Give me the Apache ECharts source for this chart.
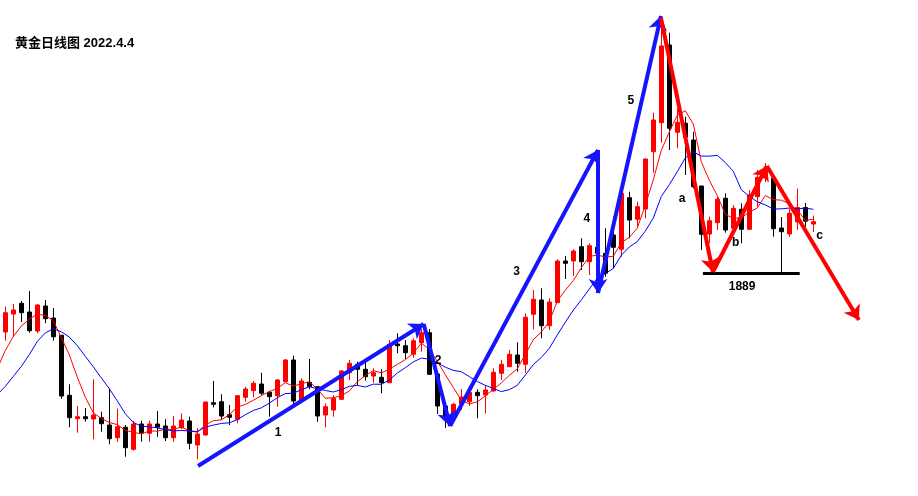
<!DOCTYPE html>
<html><head><meta charset="utf-8">
<script src="https://cdn.jsdelivr.net/npm/echarts@6/dist/echarts.min.js"></script>
<style>html,body{margin:0;padding:0;background:#fff}#c{width:918px;height:496px}</style>
</head><body><div id="c"></div>
<script>
// closes before the first visible day (only feed the moving averages)
const priorCloses = [1804.9,1793.0,1791.1,1766.6,1773.4,1798.1,1814.0,1824.5,1824.5,1849.0];
const opens = [1847.6,1860.2,1867.7,1861.6,1848.3,1865.8,1857.4,1845.3,1803.3,1786.9,
1788.3,1786.7,1787.6,1782.5,1773.6,1780.9,1765.5,1783.2,1776.7,1783.2,
1781.8,1773.6,1780.6,1785.3,1768.5,1775.5,1798.1,1798.8,1789.7,1786.5,
1801.9,1806.5,1811.2,1805.4,1803.0,1812.8,1828.0,1799.5,1812.4,1809.3,
1789.5,1793.0,1800.5,1819.1,1825.0,1821.5,1816.8,1815.9,1812.1,1839.2,
1838.0,1832.0,1840.1,1847.1,1818.2,1795.8,1789.5,1797.2,1798.8,1805.4,
1803.5,1806.3,1818.7,1823.3,1831.5,1825.0,1860.0,1870.0,1852.0,1868.1,
1897.3,1897.3,1907.3,1896.8,1906.9,1902.7,1915.5,1905.5,1941.6,1926.5,
1933.7,1973.8,1994.1,2048.5,1987.4,1993.7,1982.0,1949.8,1916.2,1924.1,
1941.2,1920.2,1933.5,1919.5,1942.3,1955.4,1955.2,1920.4,1916.2,1924.6,
1934.7,1923.2];
const closes = [1861.1,1863.0,1861.1,1848.5,1866.5,1856.9,1844.3,1802.8,1787.6,1788.3,
1786.9,1789.5,1783.4,1772.9,1781.3,1766.6,1783.2,1777.1,1783.2,1780.9,
1773.6,1781.8,1786.0,1769.7,1776.2,1798.6,1797.0,1788.8,1787.9,1803.0,
1807.7,1811.7,1804.7,1802.3,1814.0,1828.0,1799.3,1813.3,1809.3,1788.8,
1795.3,1801.2,1820.3,1825.7,1821.5,1816.3,1819.1,1812.1,1839.0,1838.0,
1833.1,1841.5,1847.1,1818.0,1795.8,1786.0,1797.0,1802.1,1805.4,1803.0,
1807.0,1819.4,1825.0,1832.0,1825.7,1857.9,1870.5,1852.0,1868.6,1897.3,
1895.7,1904.3,1896.8,1908.0,1902.7,1888.7,1906.9,1944.7,1926.0,1935.3,
1968.7,1996.0,2047.8,1990.2,1994.4,1983.9,1949.3,1916.0,1925.5,1940.5,
1919.0,1934.2,1919.5,1943.5,1955.9,1962.4,1919.9,1917.8,1930.7,1934.7,
1925.2,1924.8];
const lows = [1841.5,1844.3,1854.6,1847.1,1846.7,1853.7,1841.5,1800.9,1780.9,1777.1,
1784.8,1772.5,1777.8,1769.0,1770.8,1760.3,1764.5,1770.8,1770.8,1774.3,
1771.3,1770.8,1779.5,1765.5,1758.5,1775.2,1794.9,1786.0,1782.5,1783.7,
1798.8,1801.9,1803.5,1788.3,1795.3,1812.6,1797.0,1797.7,1807.5,1784.8,
1780.9,1788.3,1800.0,1814.0,1810.5,1813.5,1812.1,1804.7,1811.9,1832.7,
1828.7,1829.6,1833.8,1817.5,1790.2,1780.4,1784.8,1793.0,1795.8,1787.2,
1790.7,1805.8,1814.0,1823.1,1819.8,1819.1,1849.5,1843.2,1849.0,1867.9,
1884.7,1886.8,1891.0,1887.5,1896.6,1886.3,1892.2,1900.3,1913.2,1921.3,
1927.2,1959.1,1980.1,1975.0,1976.2,1957.5,1948.2,1905.0,1909.7,1919.0,
1917.1,1917.1,1909.7,1919.0,1935.4,1952.6,1914.4,1888.7,1914.1,1919.0,
1921.3,1917.6];
const highs = [1865.3,1867.2,1869.3,1876.3,1867.2,1870.0,1864.4,1845.5,1811.0,1795.8,
1794.4,1814.5,1791.8,1807.9,1793.9,1782.5,1785.3,1785.5,1785.5,1792.3,
1786.5,1788.8,1790.7,1788.3,1780.2,1798.8,1813.3,1804.0,1796.5,1803.5,
1809.3,1813.3,1819.1,1806.5,1814.7,1828.7,1831.0,1815.2,1828.7,1809.8,
1797.7,1803.5,1821.0,1828.0,1826.8,1826.1,1822.2,1821.5,1842.0,1846.7,
1842.0,1843.2,1849.5,1849.7,1818.7,1797.2,1798.1,1807.7,1809.8,1807.5,
1810.5,1822.2,1828.0,1835.0,1840.4,1860.7,1877.0,1878.2,1871.2,1898.5,
1900.8,1905.5,1913.2,1909.7,1912.0,1920.2,1928.3,1945.8,1945.8,1938.8,
1969.2,2001.1,2066.0,2057.1,2004.2,1998.3,1987.8,1950.0,1928.3,1942.3,
1944.7,1936.5,1937.7,1947.0,1961.0,1965.9,1956.3,1928.1,1933.7,1948.0,
1937.9,1929.1];
// wave annotations, in [slot, price] (slot 1 = first visible day)
const blueWaves = [
  [[25.09,1753.8],[53.3,1853.2]],
  [[53.3,1853.2],[56.6,1781.8]],
  [[56.6,1781.8],[75.09,1975.0]],
  [[75.09,1975.0],[75.09,1874.9]],
  [[75.09,1874.9],[82.96,2068.8]]
];
const redWaves = [
  [[82.96,2067.4],[89.45,1889.6]],
  [[89.45,1889.6],[96.2,1963.8]],
  [[96.2,1963.8],[107.7,1856.0]]
];
const supportLevel = 1889;
const supportSpan = [88.2, 100.3];
const waveLabels = [
  [35.1,1776.9,'1'],[55.1,1827.3,'2'],[64.9,1889.6,'3'],[73.7,1926.7,'4'],
  [79.2,2009.3,'5'],[85.6,1940.7,'a'],[92.3,1909.9,'b'],[102.8,1914.8,'c'],
  [93.1,1879.1,'1889']
];
const titleText = '黄金日线图 2022.4.4';

const nVisible = opens.length;
const trailing = 14;
const nSlots = 1 + nVisible + trailing;
const categories = [];
for (let k = 0; k < nSlots; k++) categories.push('d' + k);

const allCloses = priorCloses.concat(closes);
function ma(n) {
  const out = [];
  for (let k = 0; k < nSlots; k++) {
    const j = k + priorCloses.length - 1;
    if (k > nVisible || j - n + 1 < 0) { out.push('-'); continue; }
    let s = 0;
    for (let t = j - n + 1; t <= j; t++) s += allCloses[t];
    out.push(+(s / n).toFixed(2));
  }
  return out;
}
const candles = [];
for (let k = 0; k < nSlots; k++) {
  const i = k - 1;
  if (i >= 0 && i < nVisible) candles.push([opens[i], closes[i], lows[i], highs[i]]);
  else candles.push('-');
}

const chart = echarts.init(document.getElementById('c'), null, {renderer: 'canvas'});
const slotW = 8;
chart.setOption({
  animation: false,
  backgroundColor: '#ffffff',
  title: {
    text: titleText, left: 15, top: 37, padding: 0,
    textStyle: {fontSize: 13, fontWeight: 'bold', color: '#000',
      fontFamily: '"Liberation Sans", "Noto Sans CJK SC", sans-serif'}
  },
  grid: {left: 5.3 - slotW / 2 - slotW, top: 0, width: nSlots * slotW, height: 496,
    containLabel: false, outerBoundsMode: 'none'},
  xAxis: [
    {type: 'category', data: categories, show: false, boundaryGap: true},
    {type: 'value', min: -0.5, max: nSlots - 0.5, show: false}
  ],
  yAxis: {type: 'value', min: 1732.8, max: 2080, show: false, splitLine: {show: false}},
  series: [
    {type: 'candlestick', data: candles, barWidth: 5,
      itemStyle: {color: '#ff0000', color0: '#000000', borderColor: '#ff0000', borderColor0: '#000000', borderWidth: 1}},
    {type: 'line', data: ma(5), symbol: 'none', smooth: false,
      lineStyle: {color: '#ff0000', width: 1}, z: 3},
    {type: 'line', data: ma(10), symbol: 'none', smooth: false,
      lineStyle: {color: '#0000ff', width: 1}, z: 3},
    {type: 'lines', coordinateSystem: 'cartesian2d', xAxisIndex: 1, yAxisIndex: 0,
      symbol: ['none', 'none'], z: 5,
      lineStyle: {color: '#000000', width: 3, opacity: 1},
      data: [{coords: [[supportSpan[0], supportLevel], [supportSpan[1], supportLevel]]}]},
    {type: 'lines', coordinateSystem: 'cartesian2d', xAxisIndex: 1, yAxisIndex: 0,
      symbol: ['none', 'arrow'], symbolSize: 14, z: 6,
      lineStyle: {color: '#1414ff', width: 4, opacity: 1},
      data: blueWaves.map(s => ({coords: s}))},
    {type: 'lines', coordinateSystem: 'cartesian2d', xAxisIndex: 1, yAxisIndex: 0,
      symbol: ['none', 'arrow'], symbolSize: 14, z: 6,
      lineStyle: {color: '#ff0000', width: 4, opacity: 1},
      data: redWaves.map(s => ({coords: s}))},
    {type: 'scatter', xAxisIndex: 1, yAxisIndex: 0, symbolSize: 0, z: 7,
      itemStyle: {color: '#ffffff', opacity: 1},
      data: waveLabels,
      label: {show: true, position: 'inside', formatter: p => p.value[2],
        fontSize: 12, fontWeight: 'bold', color: '#000000', opacity: 1,
        fontFamily: '"Liberation Sans", Arial, sans-serif'}}
  ]
});
</script></body></html>
